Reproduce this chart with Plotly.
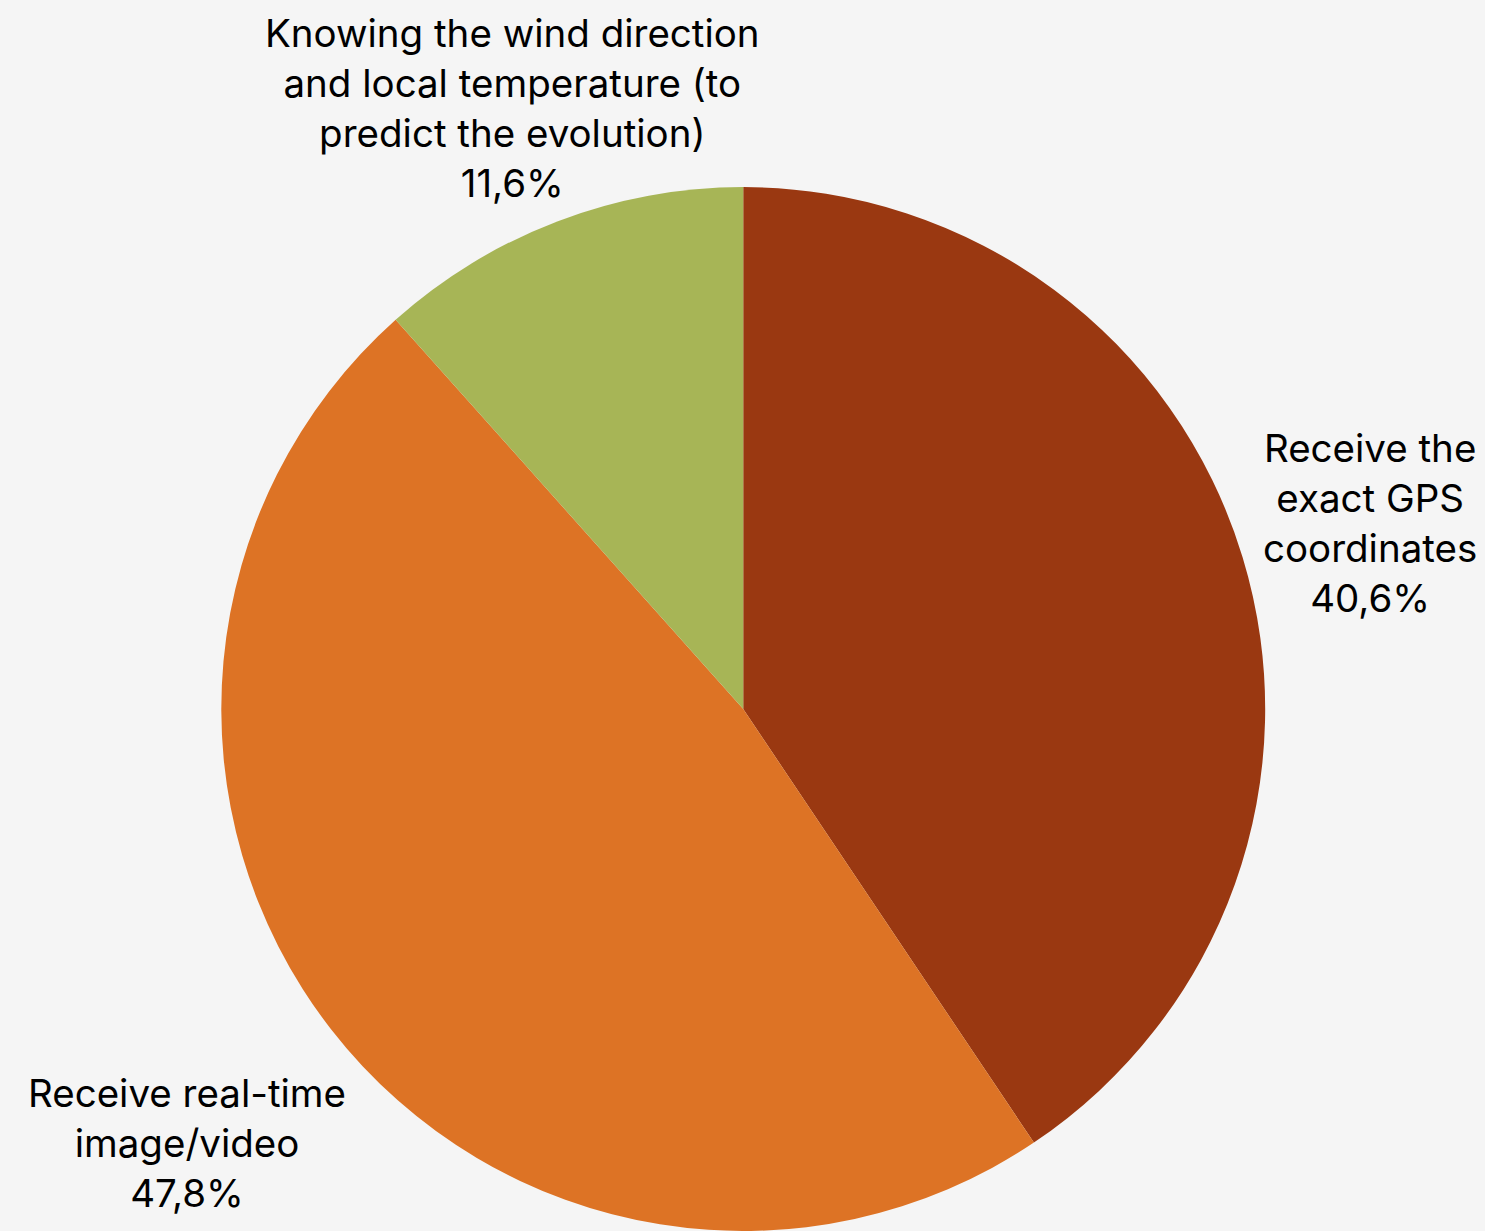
import plotly.graph_objects as go

categories = [
    "Receive the<br>exact GPS<br>coordinates",
    "Receive real-time<br>image/video",
    "Knowing the wind direction<br>and local temperature (to<br>predict the evolution)",
]
values = [40.6, 47.8, 11.6]
value_labels = ["40,6%", "47,8%", "11,6%"]
colors = ["#9A3811", "#DD7325", "#A7B556"]

# label anchor positions (paper coords)
label_pos = [(0.9226, 0.5751), (0.1259, 0.0711), (0.3448, 0.9123)]

fig = go.Figure(
    go.Pie(
        labels=categories,
        values=values,
        sort=False,
        direction="clockwise",
        rotation=0,
        marker=dict(colors=colors, line=dict(width=0)),
        textinfo="none",
        hoverinfo="skip",
        showlegend=False,
        domain=dict(x=[0.149, 0.852], y=[0.0, 0.848]),
    )
)

for cat, vl, (x, y) in zip(categories, value_labels, label_pos):
    fig.add_annotation(
        text=f"{cat}<br>{vl}",
        x=x,
        y=y,
        xref="paper",
        yref="paper",
        xanchor="center",
        yanchor="middle",
        align="center",
        showarrow=False,
        font=dict(family="Inter", size=38.5, color="#000000"),
    )

fig.update_layout(
    width=1485,
    height=1231,
    margin=dict(l=0, r=0, t=0, b=0),
    paper_bgcolor="#F5F5F5",
    plot_bgcolor="#F5F5F5",
)

fig.write_html("out.html")
